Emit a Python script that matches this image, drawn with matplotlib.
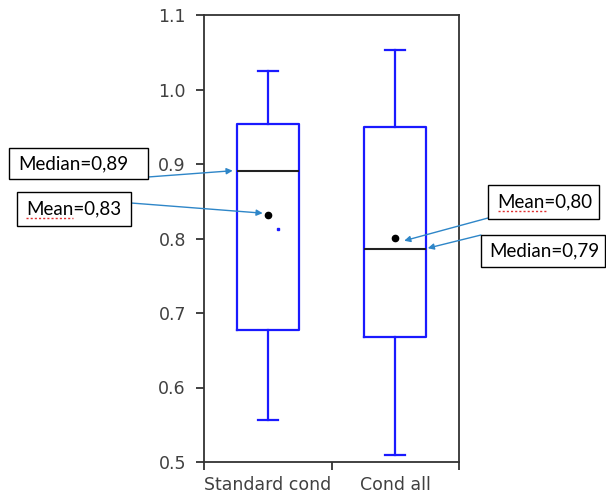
import matplotlib.pyplot as plt
from matplotlib.patches import Rectangle
from matplotlib.lines import Line2D

plt.rcParams['font.family'] = 'DejaVu Sans'

# box statistics per condition
conditions = ['Standard cond', 'Cond all']
whisker_low = [0.556, 0.509]
q1 = [0.677, 0.668]
medians = [0.891, 0.786]
q3 = [0.954, 0.950]
whisker_high = [1.025, 1.053]
means = [0.832, 0.801]

# stray point inside the first box
stray_x = [0.58]
stray_y = [0.813]

median_labels = ['Median=0,89', 'Median=0,79']
mean_labels = ['Mean=0,83', 'Mean=0,80']

positions = [0.5, 1.5]
box_w = 0.49
H = 500

fig = plt.figure(figsize=(6.06, 5.0), dpi=100)
ax = fig.add_axes([204 / 606, 1 - 462 / 500, 255 / 606, 447 / 500])

stats = []
for i in range(len(conditions)):
    stats.append(dict(whislo=whisker_low[i], q1=q1[i], med=medians[i],
                      q3=q3[i], whishi=whisker_high[i], fliers=[]))

blue = '#1a1aff'
ax.bxp(stats, positions=positions, widths=box_w, showfliers=False,
       boxprops=dict(color=blue, lw=1.6),
       whiskerprops=dict(color=blue, lw=1.6),
       capprops=dict(color=blue, lw=1.6),
       medianprops=dict(color='#222222', lw=1.5),
       capwidths=0.16, manage_ticks=False)

ax.plot(positions, means, 'o', color='black', ms=4.5, zorder=5)
ax.plot(stray_x, stray_y, 's', color=blue, ms=1.5, zorder=5)

ax.set_xlim(0, 2)
ax.set_ylim(0.5, 1.1)
ax.set_yticks([0.5, 0.6, 0.7, 0.8, 0.9, 1.0, 1.1])
ax.set_yticklabels(['0.5', '0.6', '0.7', '0.8', '0.9', '1.0', '1.1'])
ax.set_xticks([0, 1, 2])
ax.set_xticklabels([])
ax.set_xticks(positions, minor=True)
ax.set_xticklabels(conditions, minor=True)
ax.tick_params(axis='x', which='minor', length=0, pad=10)
ax.tick_params(axis='both', which='major', length=6, width=1.3, color='#333333',
               direction='out')
ax.tick_params(axis='y', pad=7)
for lab in ax.get_yticklabels() + ax.get_xticklabels(minor=True):
    lab.set_fontsize(12.5)
    lab.set_color('#404040')
for sp in ax.spines.values():
    sp.set_color('#333333')
    sp.set_linewidth(1.3)


def callout(x0, y0, x1, y1, text, tx):
    # box drawn in figure pixels, measured from the top-left corner
    fig.patches.append(Rectangle((x0, H - y1), x1 - x0, y1 - y0,
                                 transform=None, fill=True, fc='white',
                                 ec='black', lw=1.0, zorder=10))
    fig.text(tx / 606, 1 - (y0 + y1) / 2 / H, text, ha='left', va='center',
             fontsize=13.5, fontfamily='Lato', color='black', zorder=11)


def squiggle(x0, x1, y):
    # spell-check underline
    fig.add_artist(Line2D([x0 / 606, x1 / 606], [1 - y / H, 1 - y / H],
                          color='#e03030', lw=1.0, ls=(0, (1.5, 1.5)),
                          zorder=12))


arrow = dict(arrowstyle='-|>', color='#2e86c8', lw=1.0, mutation_scale=9,
             shrinkA=0, shrinkB=0)

callout(9, 148, 148, 179, median_labels[0], 18)
ax.annotate('', xy=(positions[0] - box_w / 2 - 0.03, medians[0]),
            xytext=(148, H - 177), textcoords='figure pixels',
            arrowprops=arrow, annotation_clip=False)

callout(17, 192, 131, 226, mean_labels[0], 26)
squiggle(26, 73, 218)
ax.annotate('', xy=(positions[0] - 0.04, means[0] + 0.002),
            xytext=(131, H - 203), textcoords='figure pixels',
            arrowprops=arrow, annotation_clip=False)

callout(488, 185, 599, 219, mean_labels[1], 497)
squiggle(498, 546, 211)
ax.annotate('', xy=(positions[1] + 0.07, means[1] - 0.004),
            xytext=(488, H - 218), textcoords='figure pixels',
            arrowprops=arrow, annotation_clip=False)

callout(481, 235, 605, 267, median_labels[1], 489)
ax.annotate('', xy=(positions[1] + box_w / 2 + 0.01, medians[1] + 0.001),
            xytext=(481, H - 235), textcoords='figure pixels',
            arrowprops=arrow, annotation_clip=False)

fig.savefig('out.png', dpi=100)
